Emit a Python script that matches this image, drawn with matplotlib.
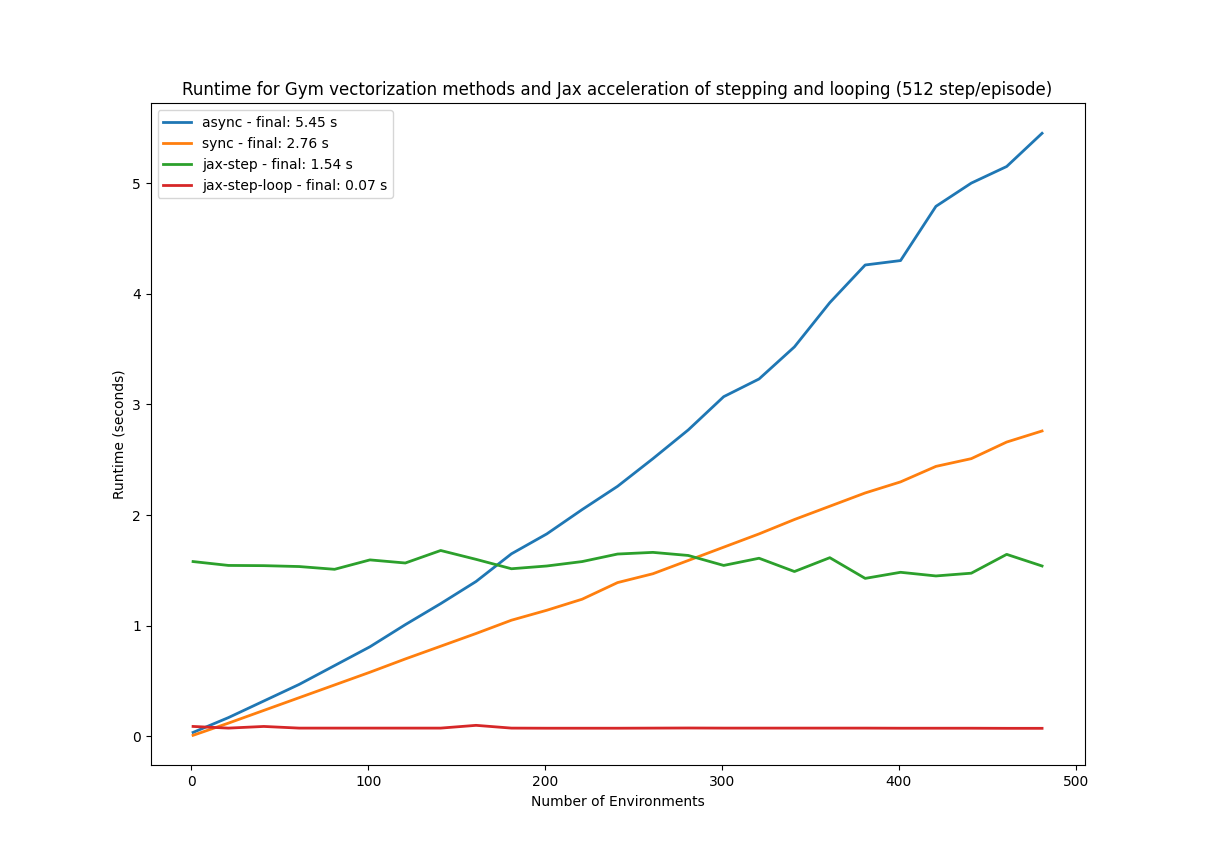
import matplotlib
matplotlib.use("Agg")
import matplotlib.pyplot as plt

num_envs = list(range(1, 482, 20))

async_times = [0.036, 0.17, 0.32, 0.47, 0.64, 0.81, 1.01, 1.20, 1.40, 1.65,
               1.83, 2.05, 2.26, 2.51, 2.77, 3.07, 3.23, 3.52, 3.92, 4.26,
               4.30, 4.79, 5.00, 5.15, 5.45]
sync_times = [0.01, 0.12, 0.235, 0.35, 0.465, 0.58, 0.70, 0.815, 0.93, 1.05,
              1.14, 1.24, 1.39, 1.47, 1.59, 1.71, 1.83, 1.96, 2.08, 2.20,
              2.30, 2.44, 2.51, 2.66, 2.76]
jax_step_times = [1.58, 1.545, 1.543, 1.535, 1.51, 1.595, 1.567, 1.68, 1.60, 1.515,
                  1.54, 1.58, 1.648, 1.663, 1.635, 1.545, 1.61, 1.49, 1.615, 1.428,
                  1.483, 1.45, 1.475, 1.645, 1.54]
jax_step_loop_times = [0.09, 0.075, 0.09, 0.075, 0.075, 0.075, 0.075, 0.075, 0.10, 0.075,
                       0.074, 0.074, 0.074, 0.075, 0.076, 0.075, 0.075, 0.075, 0.075, 0.075,
                       0.074, 0.074, 0.074, 0.073, 0.073]

series = [
    ("async", async_times),
    ("sync", sync_times),
    ("jax-step", jax_step_times),
    ("jax-step-loop", jax_step_loop_times),
]

plt.figure(figsize=(12.05, 8.6), dpi=100)
for name, vals in series:
    plt.plot(num_envs, vals, linewidth=2, label=f"{name} - final: {vals[-1]:.2f} s")
plt.title("Runtime for Gym vectorization methods and Jax acceleration of stepping and looping (512 step/episode)")
plt.xlabel("Number of Environments")
plt.ylabel("Runtime (seconds)")
plt.legend(loc="upper left")
plt.savefig("out.png", dpi=100)
